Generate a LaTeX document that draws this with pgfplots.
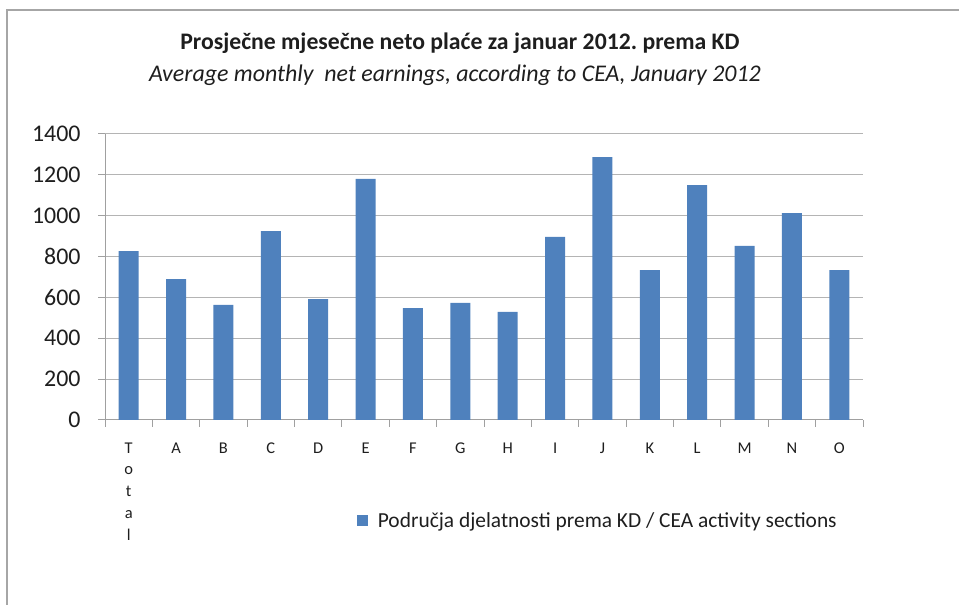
\documentclass[border=0pt]{standalone}
\usepackage{pgfplots}
\pgfplotsset{compat=1.18}
\usepackage{fontspec}
\setmainfont{Carlito}
\definecolor{barblue}{HTML}{4F81BD}
\definecolor{gridgray}{HTML}{B4B4B4}
\definecolor{axisgray}{HTML}{A0A0A0}
\definecolor{framegray}{HTML}{A6A6A6}
\definecolor{txt}{HTML}{1E1E1E}
\frenchspacing
\begin{document}
\begin{tikzpicture}[x=1bp,y=1bp]
\useasboundingbox (0,0) rectangle (959,605);
\draw[color=framegray, line width=2bp] (7,0) -- (7,595) -- (959,595);
\node[font=\fontsize{23.8}{28}\selectfont\bfseries, text=txt] at (460,562) {Prosječne mjesečne neto plaće za januar 2012. prema KD};
\node[font=\fontsize{24}{28}\selectfont\itshape, text=txt] at (455,530) {Average monthly\ \ net earnings, according to CEA, January 2012};
\begin{axis}[
  at={(105bp,185bp)}, anchor=south west,
  scale only axis, width=758bp, height=286bp,
  xmin=-0.5, xmax=15.5, ymin=0, ymax=1400,
  ybar, bar width=20bp,
  axis x line*=bottom, axis y line*=left,
  axis line style={axisgray, line width=1bp},
  ytick={0,200,...,1400},
  ymajorgrids, grid style={gridgray, line width=1bp},
  xtick={-0.5,0.5,...,15.5}, xticklabels={},
  extra x ticks={0,1,...,15},
  extra x tick labels={{T\\o\\t\\a\\l},A,B,C,D,E,F,G,H,I,J,K,L,M,N,O},
  extra x tick style={major tick length=0pt, grid=none},
  tick align=outside, major tick length=7bp,
  tick style={axisgray, line width=1bp},
  yticklabel style={font=\fontsize{24}{28}\selectfont, text=txt, xshift=-14bp},
  xticklabel style={font=\fontsize{16.5}{22}\selectfont, text=txt, align=center, anchor=north, yshift=-19bp},
  /pgf/number format/assume math mode=true,
  /pgf/number format/1000 sep={},
  legend style={at={(0.332,-0.353)}, anchor=west, draw=none, fill=none, inner sep=0pt,
    font=\fontsize{21.5}{26}\selectfont, text=txt},
  legend image code/.code={\fill[barblue] (0bp,-5.5bp) rectangle (11bp,5.5bp);},
]
\addplot[fill=barblue, draw=none] coordinates {
(0,827) (1,690) (2,563) (3,925) (4,592) (5,1180) (6,548) (7,573)
(8,529) (9,896) (10,1287) (11,734) (12,1150) (13,852) (14,1013) (15,734)};
\addlegendentry{\hspace{8bp}Područja djelatnosti prema KD / CEA activity sections}
\end{axis}
\end{tikzpicture}
\end{document}
